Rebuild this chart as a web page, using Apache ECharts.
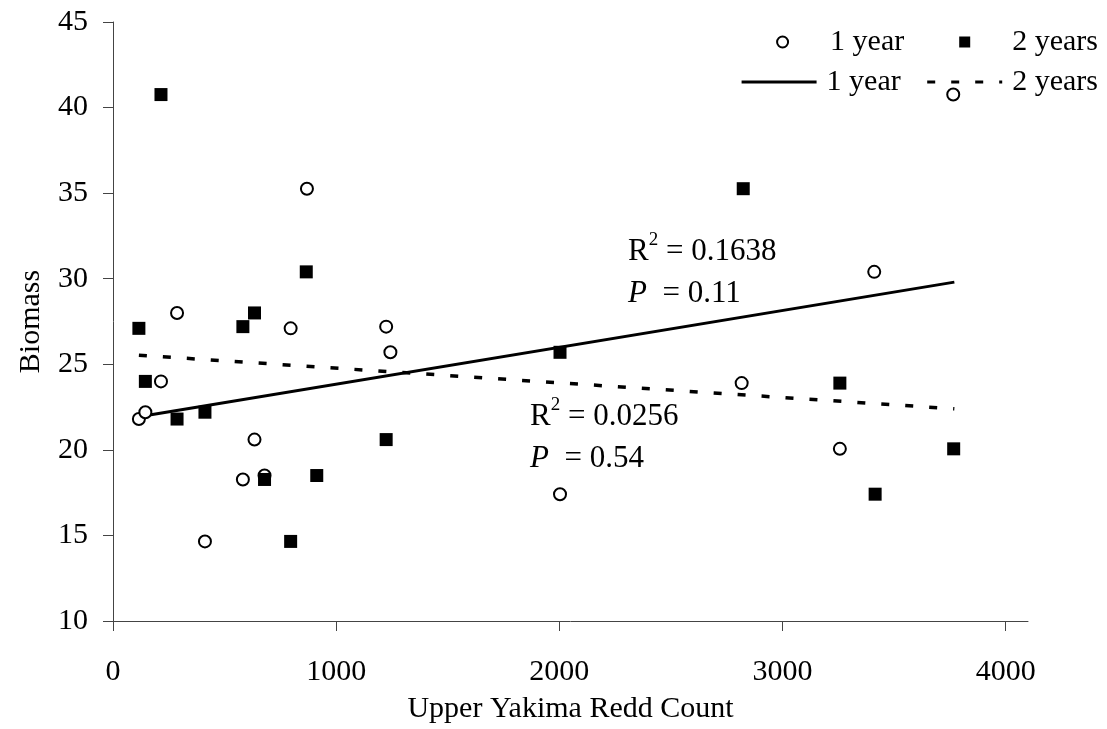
<!DOCTYPE html>
<html>
<head>
<meta charset="utf-8">
<script src="https://cdn.jsdelivr.net/npm/echarts@6/dist/echarts.min.js"></script>
<style>
html,body{margin:0;padding:0;background:#fff;}
#chart{width:1107px;height:729px;}
</style>
</head>
<body>
<div id="chart"></div>
<script>
// Upper Yakima redd count (x) vs biomass (y), 1-year lag
const redd1 = [116, 145, 215, 287, 412, 582, 634, 679, 796, 869, 1224, 1243, 2003, 2817, 3257, 3411, 3765];
const bio1  = [21.8, 22.2, 24.0, 28.0, 14.65, 18.27, 20.6, 18.5, 27.1, 35.26, 27.2, 25.7, 17.41, 23.9, 20.06, 30.4, 40.76];
// 2-year lag
const redd2 = [116, 145, 215, 287, 412, 582, 634, 679, 796, 866, 913, 1224, 2003, 2824, 3257, 3415, 3767];
const bio2  = [27.1, 24.0, 40.76, 21.8, 22.2, 27.2, 28.0, 18.27, 14.65, 30.4, 18.5, 20.6, 25.7, 35.26, 23.9, 17.41, 20.06];
// linear trend lines (end points)
const trendX  = [116, 3770];
const trend1Y = [21.93, 29.8];
const trend2Y = [25.53, 22.4];
// axis ticks
const xTicks = [0, 1000, 2000, 3000, 4000];
const yTicks = [10, 15, 20, 25, 30, 35, 40, 45];
const legendLabels = {s1: '1 year', s2: '2 years', t1: '1 year', t2: '2 years'};
const stats1 = {r2: '0.1638', p: '0.11'};
const stats2 = {r2: '0.0256', p: '0.54'};

const FONT = 'Liberation Serif';
const zip = (xs, ys) => xs.map((x, i) => [x, ys[i]]);

const rich = {
  r: {fontFamily: FONT, fontSize: 31, lineHeight: 42, verticalAlign: 'middle', fill: '#000'},
  s: {fontFamily: FONT, fontSize: 19, lineHeight: 19, verticalAlign: 'top', fill: '#000'},
  t: {fontFamily: FONT, fontSize: 31, lineHeight: 42, verticalAlign: 'middle', fill: '#000'},
  i: {fontFamily: FONT, fontSize: 31, fontStyle: 'italic', lineHeight: 42, verticalAlign: 'middle', fill: '#000'}
};
const statText = s => '{r|R}{s|2}{t| = ' + s.r2 + '}\n{i|P}{t|  = ' + s.p + '}';

const chart = echarts.init(document.getElementById('chart'), null, {renderer: 'canvas'});
chart.setOption({
  animation: false,
  backgroundColor: '#fff',
  grid: {left: 113, right: 79, top: 22, bottom: 107, containLabel: false},
  xAxis: {
    type: 'value', min: 0, max: 4100,
    name: 'Upper Yakima Redd Count', nameLocation: 'middle', nameGap: 73,
    nameTextStyle: {fontFamily: FONT, fontSize: 30, color: '#000'},
    axisLine: {show: true, onZero: false, lineStyle: {color: '#444', width: 1}},
    axisTick: {show: true, inside: false, length: 10, customValues: xTicks, lineStyle: {color: '#444'}},
    axisLabel: {customValues: xTicks, margin: 36, fontFamily: FONT, fontSize: 30, color: '#000',
                formatter: v => String(v)},
    splitLine: {show: false}
  },
  yAxis: {
    type: 'value', min: 10, max: 45, interval: 5,
    name: 'Biomass', nameLocation: 'middle', nameGap: 67, nameRotate: 90,
    nameTextStyle: {fontFamily: FONT, fontSize: 30, color: '#000'},
    axisLine: {show: true, lineStyle: {color: '#444', width: 1}},
    axisTick: {show: true, length: 10, customValues: yTicks, lineStyle: {color: '#444'}},
    axisLabel: {customValues: yTicks, margin: 25, fontFamily: FONT, fontSize: 30, color: '#000',
                formatter: v => String(v)},
    splitLine: {show: false}
  },
  legend: [
    {
      data: [
        {name: 's1', icon: 'circle'},
        {name: 's2', icon: 'path://M0,0L10,0L10,10L0,10Z'}
      ],
      right: 9, top: 27, padding: 0, align: 'left', symbolKeepAspect: true,
      itemWidth: 75, itemHeight: 11, itemGap: 55,
      formatter: n => legendLabels[n],
      textStyle: {fontFamily: FONT, fontSize: 30, color: '#000', padding: [0, 0, 0, 5]}
    },
    {
      data: [
        {name: 't1', itemStyle: {color: 'rgba(0,0,0,0)', borderWidth: 0, opacity: 0}},
        {name: 't2', itemStyle: {color: 'rgba(0,0,0,0)', borderWidth: 0, opacity: 0}}
      ],
      right: 9, top: 67, padding: 0, align: 'left',
      itemWidth: 75, itemHeight: 11, itemGap: 25,
      lineStyle: {width: 3},
      formatter: n => legendLabels[n],
      textStyle: {fontFamily: FONT, fontSize: 30, color: '#000', padding: [0, 0, 0, 5]}
    }
  ],
  series: [
    {
      name: 't1', type: 'line', data: zip(trendX, trend1Y), symbol: 'none', z: 2,
      lineStyle: {color: '#000', width: 3}, itemStyle: {color: '#000'}
    },
    {
      name: 't2', type: 'line', data: zip(trendX, trend2Y), symbol: 'none', z: 2,
      lineStyle: {color: '#000', width: 3.5, type: [8, 16]}, itemStyle: {color: '#000'}
    },
    {
      name: 's1', type: 'scatter', data: zip(redd1, bio1), symbol: 'circle', symbolSize: 12, z: 3,
      itemStyle: {color: '#fff', borderColor: '#000', borderWidth: 2, opacity: 1}
    },
    {
      name: 's2', type: 'scatter', data: zip(redd2, bio2), symbol: 'rect', symbolSize: 13, z: 3,
      itemStyle: {color: '#000', opacity: 1}
    }
  ],
  graphic: [
    {type: 'text', left: 628, top: 231, z: 10, style: {text: statText(stats1), rich: rich}},
    {type: 'text', left: 530, top: 396, z: 10, style: {text: statText(stats2), rich: rich}}
  ]
});
</script>
</body>
</html>
